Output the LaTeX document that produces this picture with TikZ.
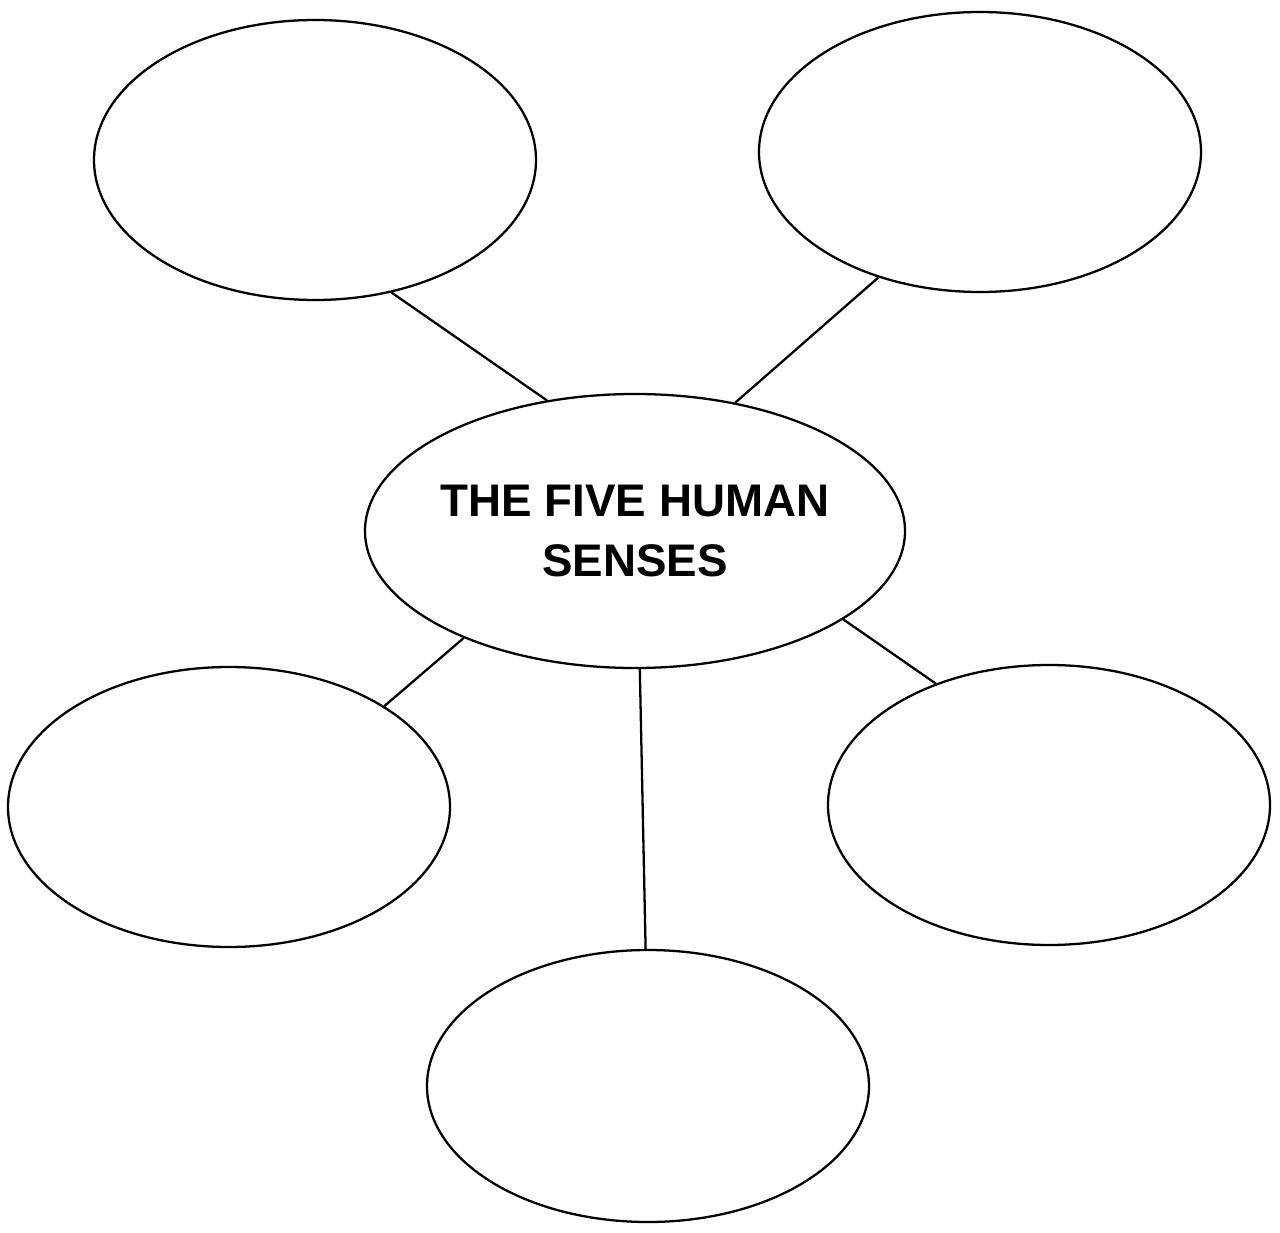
\documentclass[tikz,border=0pt]{standalone}
\usepackage{fontspec}
\setmainfont{Liberation Sans}
\usetikzlibrary{shapes.geometric}

\begin{document}
\begin{tikzpicture}[x=0.2mm, y=-0.2mm]
  \tikzset{
    sense/.style={ellipse, draw, line width=1.3pt, inner sep=0pt,
                  minimum width=88.4mm, minimum height=56mm},
    hub/.style={sense, minimum width=108mm, minimum height=54.8mm, inner xsep=-2.5pt,
                font=\fontsize{26}{34}\selectfont\bfseries, align=center},
    spoke/.style={line width=1.3pt}}
  \useasboundingbox (0,0) rectangle (1280,1233);
  % centre and the five empty senses
  \node[hub] (hub) at (635,531) {THE FIVE HUMAN\\SENSES};
  \node[sense] (tl) at (315,160) {};
  \node[sense] (tr) at (980,152) {};
  \node[sense] (bl) at (229,807) {};
  \node[sense] (br) at (1049,805) {};
  \node[sense, minimum height=54.4mm] (bt) at (648,1086) {};
  % spokes
  \draw[spoke] (tl.-60) -- (hub.124);
  \draw[spoke] (tr.231) -- (hub.52);
  \draw[spoke] (bl.33) -- (hub.212);
  \draw[spoke] (br.133) -- (hub.337);
  \draw[spoke] (hub.-88.5) -- (bt.91);
\end{tikzpicture}
\end{document}
